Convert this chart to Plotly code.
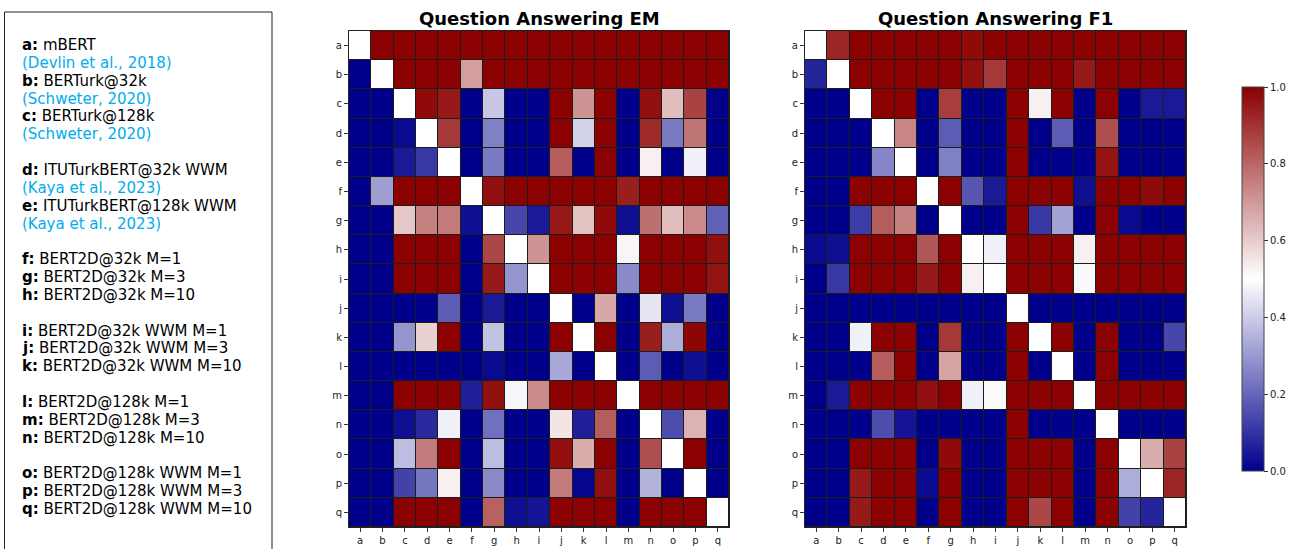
import plotly.graph_objects as go

W, H = 1305, 549

LETTERS = list("abcdefghijklmnopq")

MODEL_NAMES = [
    "mBERT", "BERTurk@32k", "BERTurk@128k",
    "ITUTurkBERT@32k WWM", "ITUTurkBERT@128k WWM",
    "BERT2D@32k M=1", "BERT2D@32k M=3", "BERT2D@32k M=10",
    "BERT2D@32k WWM M=1", "BERT2D@32k WWM M=3", "BERT2D@32k WWM M=10",
    "BERT2D@128k M=1", "BERT2D@128k M=3", "BERT2D@128k M=10",
    "BERT2D@128k WWM M=1", "BERT2D@128k WWM M=3", "BERT2D@128k WWM M=10",
]
CITATIONS = {
    "a": "(Devlin et al., 2018)",
    "b": "(Schweter, 2020)",
    "c": "(Schweter, 2020)",
    "d": "(Kaya et al., 2023)",
    "e": "(Kaya et al., 2023)",
}
GROUP_ENDS = ["c", "e", "h", "k", "n"]

# Pairwise comparison scores, rows/columns ordered a..q
EM = [
    [0.50, 1.00, 1.00, 1.00, 1.00, 1.00, 1.00, 1.00, 1.00, 1.00, 1.00, 1.00, 1.00, 1.00, 1.00, 1.00, 1.00],
    [0.00, 0.50, 1.00, 1.00, 1.00, 0.69, 1.00, 1.00, 1.00, 1.00, 1.00, 1.00, 1.00, 1.00, 1.00, 1.00, 1.00],
    [0.00, 0.00, 0.50, 0.98, 0.95, 0.00, 0.39, 0.00, 0.00, 1.00, 0.71, 1.00, 0.00, 0.97, 0.63, 0.87, 0.00],
    [0.00, 0.00, 0.02, 0.50, 0.89, 0.00, 0.25, 0.00, 0.00, 1.00, 0.41, 1.00, 0.00, 0.92, 0.24, 0.77, 0.00],
    [0.00, 0.00, 0.05, 0.11, 0.50, 0.00, 0.24, 0.00, 0.00, 0.82, 0.00, 1.00, 0.00, 0.53, 0.00, 0.47, 0.00],
    [0.00, 0.31, 1.00, 1.00, 1.00, 0.50, 0.97, 1.00, 1.00, 1.00, 1.00, 1.00, 0.94, 1.00, 1.00, 1.00, 1.00],
    [0.00, 0.00, 0.61, 0.75, 0.76, 0.03, 0.50, 0.14, 0.05, 0.95, 0.62, 0.98, 0.03, 0.78, 0.63, 0.73, 0.19],
    [0.00, 0.00, 1.00, 1.00, 1.00, 0.00, 0.86, 0.50, 0.71, 1.00, 1.00, 1.00, 0.52, 1.00, 1.00, 1.00, 0.97],
    [0.00, 0.00, 1.00, 1.00, 1.00, 0.00, 0.95, 0.29, 0.50, 1.00, 1.00, 1.00, 0.27, 1.00, 1.00, 1.00, 0.96],
    [0.00, 0.00, 0.00, 0.00, 0.18, 0.00, 0.05, 0.00, 0.00, 0.50, 0.00, 0.67, 0.00, 0.45, 0.03, 0.24, 0.00],
    [0.00, 0.00, 0.29, 0.59, 1.00, 0.00, 0.38, 0.00, 0.00, 1.00, 0.50, 1.00, 0.00, 0.94, 0.34, 0.99, 0.00],
    [0.00, 0.00, 0.00, 0.00, 0.00, 0.00, 0.02, 0.00, 0.00, 0.33, 0.00, 0.50, 0.00, 0.18, 0.00, 0.03, 0.00],
    [0.00, 0.00, 1.00, 1.00, 1.00, 0.06, 0.97, 0.48, 0.73, 1.00, 1.00, 1.00, 0.50, 1.00, 1.00, 1.00, 1.00],
    [0.00, 0.00, 0.03, 0.08, 0.47, 0.00, 0.22, 0.00, 0.00, 0.55, 0.06, 0.82, 0.00, 0.50, 0.15, 0.65, 0.00],
    [0.00, 0.00, 0.37, 0.76, 1.00, 0.00, 0.37, 0.00, 0.00, 0.97, 0.66, 1.00, 0.00, 0.85, 0.50, 1.00, 0.00],
    [0.00, 0.00, 0.13, 0.23, 0.53, 0.00, 0.27, 0.00, 0.00, 0.76, 0.01, 0.97, 0.00, 0.35, 0.00, 0.50, 0.00],
    [0.00, 0.00, 1.00, 1.00, 1.00, 0.00, 0.81, 0.03, 0.04, 1.00, 1.00, 1.00, 0.00, 1.00, 1.00, 1.00, 0.50],
]

F1 = [
    [0.50, 0.93, 1.00, 1.00, 1.00, 1.00, 1.00, 0.98, 1.00, 1.00, 1.00, 1.00, 1.00, 1.00, 1.00, 1.00, 1.00],
    [0.07, 0.50, 1.00, 1.00, 1.00, 1.00, 1.00, 0.97, 0.89, 1.00, 1.00, 1.00, 0.95, 1.00, 1.00, 1.00, 1.00],
    [0.00, 0.00, 0.50, 1.00, 1.00, 0.00, 0.88, 0.00, 0.00, 1.00, 0.53, 1.00, 0.00, 1.00, 0.00, 0.05, 0.05],
    [0.00, 0.00, 0.00, 0.50, 0.74, 0.00, 0.18, 0.00, 0.00, 1.00, 0.00, 0.18, 0.00, 0.85, 0.00, 0.00, 0.00],
    [0.00, 0.00, 0.00, 0.26, 0.50, 0.00, 0.25, 0.00, 0.00, 1.00, 0.00, 0.00, 0.00, 0.96, 0.00, 0.00, 0.00],
    [0.00, 0.00, 1.00, 1.00, 1.00, 0.50, 1.00, 0.17, 0.05, 1.00, 1.00, 1.00, 0.03, 1.00, 1.00, 0.98, 1.00],
    [0.00, 0.00, 0.12, 0.82, 0.75, 0.00, 0.50, 0.00, 0.00, 1.00, 0.11, 0.32, 0.00, 1.00, 0.02, 0.00, 0.00],
    [0.02, 0.03, 1.00, 1.00, 1.00, 0.83, 1.00, 0.50, 0.47, 1.00, 1.00, 1.00, 0.53, 1.00, 1.00, 1.00, 1.00],
    [0.00, 0.11, 1.00, 1.00, 1.00, 0.95, 1.00, 0.53, 0.50, 1.00, 1.00, 1.00, 0.49, 1.00, 1.00, 1.00, 1.00],
    [0.00, 0.00, 0.00, 0.00, 0.00, 0.00, 0.00, 0.00, 0.00, 0.50, 0.00, 0.00, 0.00, 0.00, 0.00, 0.00, 0.00],
    [0.00, 0.00, 0.47, 1.00, 1.00, 0.00, 0.89, 0.00, 0.00, 1.00, 0.50, 1.00, 0.00, 1.00, 0.00, 0.00, 0.14],
    [0.00, 0.00, 0.00, 0.82, 1.00, 0.00, 0.68, 0.00, 0.00, 1.00, 0.00, 0.50, 0.00, 1.00, 0.00, 0.00, 0.00],
    [0.00, 0.05, 1.00, 1.00, 1.00, 0.97, 1.00, 0.47, 0.51, 1.00, 1.00, 1.00, 0.50, 1.00, 1.00, 1.00, 1.00],
    [0.00, 0.00, 0.00, 0.15, 0.04, 0.00, 0.00, 0.00, 0.00, 1.00, 0.00, 0.00, 0.00, 0.50, 0.00, 0.00, 0.00],
    [0.00, 0.00, 1.00, 1.00, 1.00, 0.00, 0.98, 0.00, 0.00, 1.00, 1.00, 1.00, 0.00, 1.00, 0.50, 0.66, 0.87],
    [0.00, 0.00, 0.95, 1.00, 1.00, 0.02, 1.00, 0.00, 0.00, 1.00, 1.00, 1.00, 0.00, 1.00, 0.34, 0.50, 0.93],
    [0.00, 0.00, 0.95, 1.00, 1.00, 0.00, 1.00, 0.00, 0.00, 1.00, 0.86, 1.00, 0.00, 1.00, 0.13, 0.07, 0.50],
]

TITLES = ["Question Answering EM", "Question Answering F1"]
COLORBAR_TICKS = [0.0, 0.2, 0.4, 0.6, 0.8, 1.0]

FONT = "DejaVu Sans"
CITE_COLOR = "#00ACEE"


def px_x(x):
    return x / W


def px_y(y):
    return 1 - y / H


fig = go.Figure()
fig.add_trace(go.Heatmap(z=EM, x=LETTERS, y=LETTERS, coloraxis="coloraxis",
                         xgap=1, ygap=1, xaxis="x", yaxis="y"))
fig.add_trace(go.Heatmap(z=F1, x=LETTERS, y=LETTERS, coloraxis="coloraxis",
                         xgap=1, ygap=1, xaxis="x2", yaxis="y2"))

axis_common = dict(
    type="category", showgrid=False, zeroline=False,
    showline=True, mirror=True, linecolor="#222", linewidth=1,
    ticks="outside", ticklen=4, tickcolor="#333", tickwidth=1,
    tickfont=dict(family=FONT, size=10, color="#222"),
)

plot1 = (349, 729)
plot2 = (805, 1186)
top, bottom = 31, 527

fig.update_layout(
    width=W, height=H,
    margin=dict(l=0, r=0, t=0, b=0),
    paper_bgcolor="white",
    plot_bgcolor="#1c1c1c",
    font=dict(family=FONT, color="#000"),
    showlegend=False,
    xaxis=dict(domain=[px_x(plot1[0]), px_x(plot1[1])], anchor="y", **axis_common),
    yaxis=dict(domain=[px_y(bottom), px_y(top)], anchor="x", autorange="reversed", **axis_common),
    xaxis2=dict(domain=[px_x(plot2[0]), px_x(plot2[1])], anchor="y2", **axis_common),
    yaxis2=dict(domain=[px_y(bottom), px_y(top)], anchor="x2", autorange="reversed", **axis_common),
    coloraxis=dict(
        cmin=0, cmax=1,
        colorscale=[[0.0, "#00008B"], [0.5, "#FFFFFF"], [1.0, "#8B0000"]],
        colorbar=dict(
            x=px_x(1242), xanchor="left", xref="paper",
            y=px_y(279), yanchor="middle", yref="paper",
            thickness=22, thicknessmode="pixels",
            len=384, lenmode="pixels",
            outlinewidth=1, outlinecolor="#444",
            tickvals=COLORBAR_TICKS, tickformat=".1f",
            ticks="outside", ticklen=4, tickcolor="#333",
            tickfont=dict(family=FONT, size=10, color="#222"),
            xpad=0, ypad=0,
        ),
    ),
)

# Panel titles
for title, (x0, x1) in zip(TITLES, [plot1, plot2]):
    fig.add_annotation(
        text=f"<b>{title}</b>", x=px_x((x0 + x1) / 2), y=px_y(18.5),
        xref="paper", yref="paper", xanchor="center", yanchor="middle",
        showarrow=False, font=dict(family=FONT, size=18, color="#000"),
    )

# Model key box
fig.add_shape(type="rect", xref="paper", yref="paper",
              x0=px_x(4.5), x1=px_x(272), y0=-0.1, y1=px_y(12),
              line=dict(color="#222", width=1), fillcolor="rgba(0,0,0,0)")

lines = []
for key, name in zip(LETTERS, MODEL_NAMES):
    lines.append((f"<b>{key}:</b> {name}", "#000"))
    if key in CITATIONS:
        lines.append((CITATIONS[key], CITE_COLOR))
    if key in GROUP_ENDS:
        lines.append(None)

line_step = 17.85
for i, item in enumerate(lines):
    if item is None:
        continue
    text, color = item
    fig.add_annotation(
        text=text, x=px_x(20), y=px_y(45 + i * line_step),
        xref="paper", yref="paper", xanchor="left", yanchor="middle",
        showarrow=False, font=dict(family=FONT, size=15, color=color),
    )

fig.write_html("out.html")
